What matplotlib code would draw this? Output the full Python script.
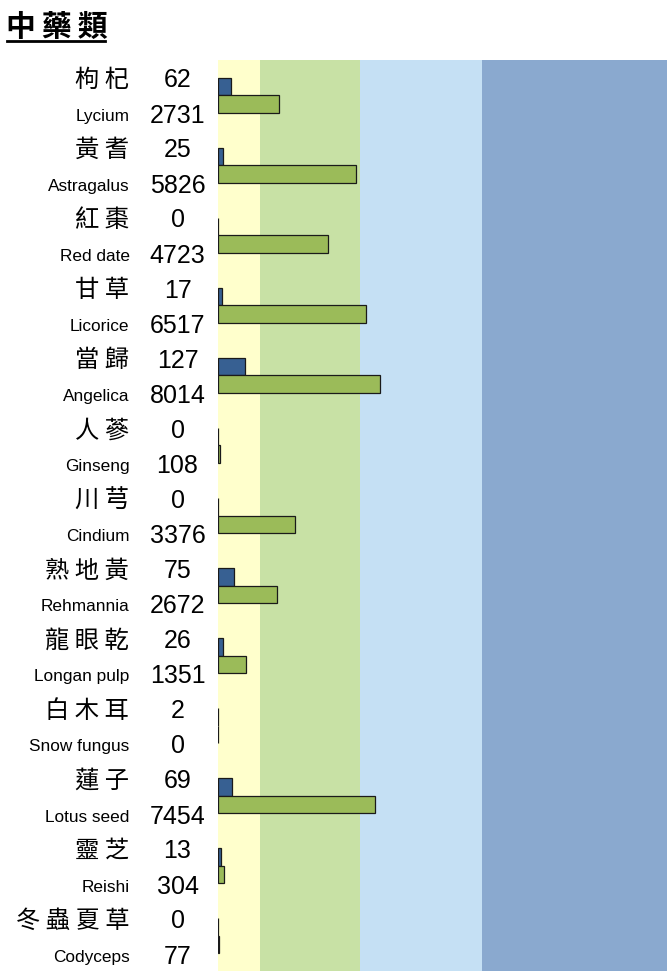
import matplotlib
matplotlib.use("Agg")
import matplotlib.pyplot as plt
from matplotlib.transforms import blended_transform_factory
from matplotlib.lines import Line2D

# ---- data ----
title = "中藥類"
names_zh = ["枸杞", "黃耆", "紅棗", "甘草", "當歸", "人蔘", "川芎", "熟地黃",
            "龍眼乾", "白木耳", "蓮子", "靈芝", "冬蟲夏草"]
names_en = ["Lycium", "Astragalus", "Red date", "Licorice", "Angelica", "Ginseng",
            "Cindium", "Rehmannia", "Longan pulp", "Snow fungus", "Lotus seed",
            "Reishi", "Codyceps"]
values_a = [62, 25, 0, 17, 127, 0, 0, 75, 26, 2, 69, 13, 0]
values_b = [2731, 5826, 4723, 6517, 8014, 108, 3376, 2672, 1351, 0, 7454, 304, 77]
# bar lengths of the second series as drawn (same axis units as values_a)
bar_b = [289, 656, 526, 704, 774, 11, 366, 281, 135, 0, 748, 30, 6]
band_edges = [0, 200, 677, 1258, 2140]
band_colors = ["#FFFFCC", "#C8E1A5", "#C5E0F4", "#8AA9CF"]

W, H = 670, 971
fig = plt.figure(figsize=(W / 100, H / 100), dpi=100)
ax = fig.add_axes([218 / W, 0, (667 - 218) / W, (971 - 60) / H])

for (x0, x1), c in zip(zip(band_edges[:-1], band_edges[1:]), band_colors):
    ax.axvspan(x0, x1, color=c, lw=0, zorder=0)

n = len(names_zh)
ys = list(range(n))
h = 0.25
ax.barh([y - h / 2 for y in ys], values_a, height=h, color="#376092",
        edgecolor="#1a1a1a", linewidth=0.9, zorder=2)
ax.barh([y + h / 2 for y in ys], bar_b, height=h, color="#9BBB59",
        edgecolor="#1a1a1a", linewidth=0.9, zorder=2)

ax.set_xlim(band_edges[0], band_edges[-1])
ax.set_ylim(n - 0.5, -0.5)
ax.axis("off")

tr = blended_transform_factory(fig.transFigure, ax.transData)
zh_fam = ["Noto Sans CJK TC", "DejaVu Sans"]
for i in range(n):
    ax.text(129 / W, i - 0.215, " ".join(names_zh[i]), transform=tr,
            ha="right", va="center", fontsize=17.5, family=zh_fam)
    ax.text(129.5 / W, i + 0.367, names_en[i], transform=tr,
            ha="right", va="baseline", fontsize=12.4, family="Liberation Sans")
    ax.text(177.5 / W, i - 0.11, str(values_a[i]), transform=tr,
            ha="center", va="baseline", fontsize=18, family="Liberation Sans")
    ax.text(177.5 / W, i + 0.396, str(values_b[i]), transform=tr,
            ha="center", va="baseline", fontsize=18, family="Liberation Sans")

fig.text(6 / W, 1 - 12 / H, "\u2009".join(title), ha="left", va="top",
         fontsize=21.5, fontweight="bold", family=zh_fam)
fig.add_artist(Line2D([7 / W, 105 / W], [1 - 41.5 / H, 1 - 41.5 / H],
                      transform=fig.transFigure, color="black", lw=2))

fig.savefig("out.png", dpi=100)
